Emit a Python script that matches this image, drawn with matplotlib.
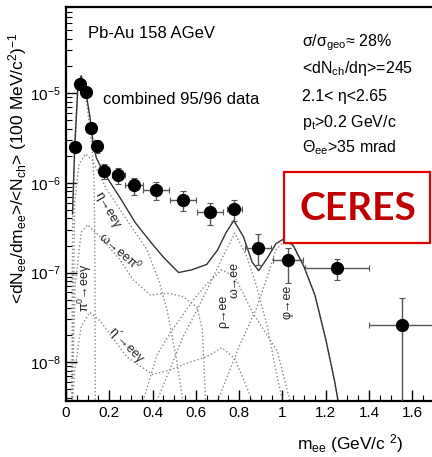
import numpy as np
import matplotlib
matplotlib.use('Agg')
import matplotlib.pyplot as plt
from matplotlib.patches import Rectangle
from matplotlib.ticker import MultipleLocator, LogLocator, NullFormatter

plt.rcParams['font.family'] = ['Liberation Sans', 'DejaVu Sans']
plt.rcParams['mathtext.default'] = 'regular'

# data points
m_data = [0.042, 0.065, 0.092, 0.115, 0.142, 0.177, 0.242, 0.314, 0.416, 0.539,
          0.665, 0.778, 0.888, 1.024, 1.252, 1.552]
y_data = [2.5e-6, 1.26e-5, 1.02e-5, 4.1e-6, 2.57e-6, 1.35e-6, 1.22e-6, 9.4e-7, 8.3e-7,
          6.5e-7, 4.7e-7, 5.05e-7, 1.9e-7, 1.37e-7, 1.12e-7, 2.6e-8]
y_err_lo = [0.3e-6, 1.2e-6, 1.0e-6, 0.5e-6, 0.4e-6, 0.25e-6, 0.25e-6, 0.2e-6, 0.18e-6,
            0.17e-6, 0.13e-6, 0.13e-6, 0.07e-6, 0.06e-6, 0.03e-6, 2.59e-8]
y_err_hi = [0.3e-6, 1.2e-6, 1.0e-6, 0.5e-6, 0.4e-6, 0.25e-6, 0.25e-6, 0.2e-6, 0.18e-6,
            0.17e-6, 0.13e-6, 0.13e-6, 0.08e-6, 0.05e-6, 0.03e-6, 2.6e-8]
x_err = [0, 0, 0, 0, 0, 0.02, 0.03, 0.04, 0.06, 0.06, 0.06, 0.035, 0.06, 0.07, 0.15, 0.15]

# cocktail: total
tot_x = [0.03, 0.04, 0.055, 0.07, 0.09, 0.11, 0.125, 0.14, 0.17, 0.25, 0.32, 0.39, 0.45,
         0.52, 0.58, 0.65, 0.70, 0.74, 0.775, 0.82, 0.86, 0.89, 0.93, 0.97, 1.01, 1.05,
         1.10, 1.15, 1.20, 1.24, 1.257]
tot_y = [4.5e-7, 2.4e-6, 1.2e-5, 1.55e-5, 1.1e-5, 5.5e-6, 2.8e-6, 1.9e-6, 1.35e-6, 6.8e-7,
         3.6e-7, 2.2e-7, 1.48e-7, 1.0e-7, 1.07e-7, 1.23e-7, 1.78e-7, 2.8e-7, 3.8e-7, 2.5e-7,
         1.3e-7, 1.05e-7, 1.45e-7, 2.1e-7, 2.4e-7, 2.0e-7, 1.15e-7, 5.6e-8, 1.8e-8, 6.3e-9,
         3.7e-9]

# components
pi0_x = [0.027, 0.03, 0.04, 0.055, 0.07, 0.09, 0.11, 0.12, 0.13, 0.134, 0.135]
pi0_y = [3.7e-9, 3e-7, 2.4e-6, 1.2e-5, 1.6e-5, 1.05e-5, 4e-6, 2.5e-6, 1e-6, 1e-7, 3.7e-9]

eta_x = [0.028, 0.04, 0.06, 0.09, 0.12, 0.15, 0.19, 0.25, 0.30, 0.374, 0.43, 0.467, 0.513, 0.54]
eta_y = [3.7e-9, 6e-7, 1.6e-6, 2.1e-6, 1.8e-6, 1.3e-6, 8.3e-7, 5e-7, 3.3e-7, 1.8e-7, 8e-8,
         3.8e-8, 1e-8, 3.7e-9]

omd_x = [0.028, 0.042, 0.07, 0.1, 0.157, 0.25, 0.31, 0.39, 0.466, 0.54, 0.605, 0.63, 0.645]
omd_y = [3.7e-9, 7e-8, 2.8e-7, 3.4e-7, 2.5e-7, 1.38e-7, 8.3e-8, 5.6e-8, 5.9e-8, 5.4e-8,
         4.1e-8, 2.3e-8, 3.7e-9]

etap_x = [0.03, 0.04, 0.07, 0.11, 0.157, 0.28, 0.40, 0.48, 0.57, 0.65, 0.72, 0.78, 0.836, 0.86]
etap_y = [3.7e-9, 8e-9, 2.5e-8, 3.6e-8, 2.9e-8, 1.15e-8, 7.3e-9, 8.2e-9, 1.0e-8, 1.15e-8,
          1.45e-8, 1.1e-8, 5.2e-9, 3.7e-9]

rho_x = [0.356, 0.42, 0.48, 0.587, 0.65, 0.72, 0.78, 0.864, 0.975, 1.035]
rho_y = [3.7e-9, 1.2e-8, 2.1e-8, 4.9e-8, 7.5e-8, 1.07e-7, 9e-8, 3.5e-8, 1.35e-8, 3.7e-9]

omg_x = [0.42, 0.54, 0.62, 0.68, 0.73, 0.78, 0.836, 0.88, 0.93, 0.97, 1.0]
omg_y = [3.7e-9, 1.9e-8, 4.5e-8, 8.9e-8, 1.6e-7, 2.75e-7, 1.5e-7, 7e-8, 2.5e-8, 8e-9, 3.7e-9]

phi_x = [0.70, 0.80, 0.88, 0.93, 0.97, 1.01, 1.05, 1.10, 1.15, 1.20, 1.24, 1.257]
phi_y = [3.7e-9, 1.5e-8, 4e-8, 9e-8, 1.8e-7, 2.25e-7, 1.95e-7, 1.15e-7, 5.6e-8, 1.8e-8,
         6.3e-9, 3.7e-9]

fig = plt.figure(figsize=(4.32, 4.57), dpi=100)
W, H = 432, 457
ax = fig.add_axes([66 / W, 56 / H, 368 / W, 394 / H])

dot = dict(color='#888888', ls=':', lw=1.0)
for xs, ys in [(pi0_x, pi0_y), (eta_x, eta_y), (omd_x, omd_y), (etap_x, etap_y),
               (rho_x, rho_y), (omg_x, omg_y), (phi_x, phi_y)]:
    ax.plot(xs, ys, **dot)
ax.plot(tot_x, tot_y, color='#333333', lw=1.0)

ax.errorbar(m_data, y_data, yerr=[y_err_lo, y_err_hi], xerr=x_err, fmt='o', color='black',
            ms=8.5, ecolor='#555555', elinewidth=1.0, capsize=2, capthick=0.8, zorder=5)

ax.set_yscale('log')
ax.set_xlim(0, 1.7)
ax.set_ylim(3.7e-9, 9.1e-5)

ax.xaxis.set_minor_locator(MultipleLocator(0.05))
ax.set_xticks(np.arange(0, 1.61, 0.2))
ax.set_xticklabels(['0', '0.2', '0.4', '0.6', '0.8', '1', '1.2', '1.4', '1.6'])
ax.yaxis.set_major_locator(LogLocator(base=10, numticks=10))
ax.yaxis.set_minor_locator(LogLocator(base=10, subs=np.arange(2, 10), numticks=10))
ax.yaxis.set_minor_formatter(NullFormatter())
ax.tick_params(which='both', direction='in', labelsize=11, top=False, right=False)
ax.tick_params(which='major', length=8, width=1)
ax.tick_params(which='minor', length=4, width=0.8)
for s in ['left', 'bottom', 'top']:
    ax.spines[s].set_linewidth(1.6)
ax.spines['right'].set_visible(False)

ax.set_ylabel(r'<dN$_{ee}$/dm$_{ee}$>/<N$_{ch}$> (100 MeV/c$^{2}$)$^{-1}$', fontsize=12.5,
              va='center')
ax.yaxis.set_label_coords(-0.133, 0.59)
ax.set_xlabel(r'm$_{ee}$ (GeV/c $^{2}$)', fontsize=12.5, va='center')
ax.xaxis.set_label_coords(0.772, -0.107)

# component labels
lab = dict(fontsize=9, ha='center', va='center', rotation_mode='anchor', color='#222222')
ax.text(0.19, 5e-7, 'η→eeγ', rotation=-60, **lab)
ax.text(0.25, 1.7e-7, r'ω→eeπ$^{0}$', rotation=-41, **lab)
ax.text(0.088, 6.7e-8, r'π$^{0}$→eeγ', rotation=90, **lab)
ax.text(0.277, 1.55e-8, 'η´→eeγ', rotation=-46, **lab)
ax.text(0.725, 3.7e-8, 'ρ→ee', rotation=90, **lab)
ax.text(0.78, 8.2e-8, 'ω→ee', rotation=90, **lab)
ax.text(1.025, 4.7e-8, 'φ→ee', rotation=90, **lab)

# figure texts
fig.text(88 / W, 1 - 33 / H, 'Pb-Au 158 AGeV', fontsize=12, va='center')
fig.text(103 / W, 1 - 100 / H, 'combined 95/96 data', fontsize=12, va='center')
info = [r'σ/σ$_{geo}$≈ 28%', r'<dN$_{ch}$/dη>=245', '2.1< η<2.65',
        r'p$_{t}$>0.2 GeV/c', r'Θ$_{ee}$>35 mrad']
info_y = [43, 68, 97, 123, 148]
for t, yy in zip(info, info_y):
    fig.text(302 / W, 1 - yy / H, t, fontsize=11.5, va='center')

fig.patches.append(Rectangle((284 / W, 1 - 243 / H), 146 / W, 71 / H, transform=fig.transFigure,
                             facecolor='white', edgecolor='#e00000', lw=1.6, zorder=10))
fig.text(358 / W, 1 - 208 / H, 'CERES', fontsize=28, fontweight='bold', family='Lato',
         color='#c00000', ha='center', va='center', zorder=11)

fig.savefig('out.png', dpi=100)
